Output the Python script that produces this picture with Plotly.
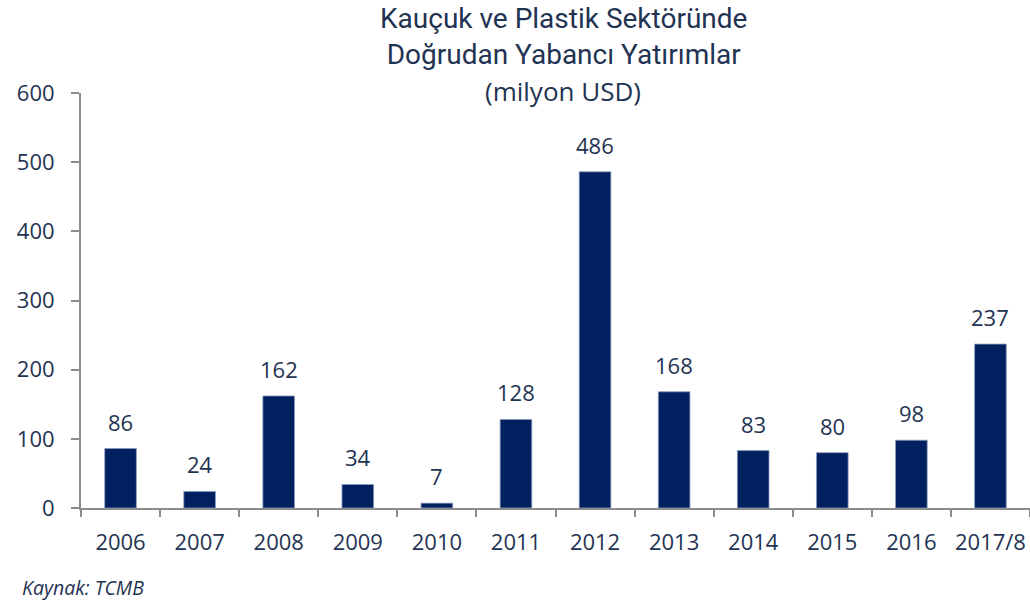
import plotly.graph_objects as go

categories = ["2006", "2007", "2008", "2009", "2010", "2011", "2012", "2013", "2014", "2015", "2016", "2017/8"]
values = [86, 24, 162, 34, 7, 128, 486, 168, 83, 80, 98, 237]
y_ticks = [0, 100, 200, 300, 400, 500, 600]

text_color = "#1f3352"
bar_color = "#002060"
axis_color = "#8c8c8c"

fig = go.Figure()
fig.add_trace(go.Bar(
    x=categories, y=values,
    marker=dict(color=bar_color, line=dict(color="#8a9bbd", width=0.8)),
    width=0.4,
))

label_annotations = [
    dict(x=i, y=v, text=str(v), xref="x", yref="y", showarrow=False,
         xanchor="center", yanchor="bottom", yshift=10,
         font=dict(family="Open Sans", size=22, color=text_color))
    for i, v in enumerate(values)
]

title_x = (563 - 81) / 949

fig.update_layout(
    width=1030, height=604,
    margin=dict(l=81, r=0, t=93, b=96),
    plot_bgcolor="white", paper_bgcolor="white",
    showlegend=False,
    xaxis=dict(
        type="category", range=[-0.5, len(categories) - 0.5],
        showline=True, linecolor=axis_color, linewidth=2,
        ticks="outside", tickson="boundaries", ticklen=7, tickcolor=axis_color, tickwidth=2,
        tickfont=dict(family="Open Sans", size=22, color=text_color),
        ticklabelstandoff=14, tickangle=0,
        showgrid=False,
    ),
    yaxis=dict(
        range=[0, 600], tickvals=y_ticks,
        showline=True, linecolor=axis_color, linewidth=2,
        ticks="outside", ticklen=8, tickcolor=axis_color, tickwidth=2,
        tickfont=dict(family="Open Sans", size=22, color=text_color),
        ticklabelstandoff=12,
        showgrid=False, zeroline=False,
    ),
    annotations=label_annotations + [
        dict(text="Kauçuk ve Plastik Sektöründe<br>Doğrudan Yabancı Yatırımlar",
             xref="paper", yref="paper", x=title_x, y=1, yshift=93,
             xanchor="center", yanchor="top", showarrow=False,
             font=dict(family="Roboto", size=28, color=text_color),
             align="center"),
        dict(text="(milyon USD)", xref="paper", yref="paper", x=title_x, y=1, yshift=-18,
             xanchor="center", yanchor="bottom", showarrow=False,
             font=dict(family="Open Sans", size=26, color=text_color)),
        dict(text="<i>Kaynak: TCMB</i>", xref="paper", yref="paper", x=(20 - 81) / 949, y=0,
             yshift=-95, xanchor="left", yanchor="bottom", showarrow=False,
             font=dict(family="Open Sans", size=19.5, color=text_color)),
    ],
)

fig.write_html("out.html", config={"displayModeBar": False},
               post_script="document.body.style.margin='0';")
